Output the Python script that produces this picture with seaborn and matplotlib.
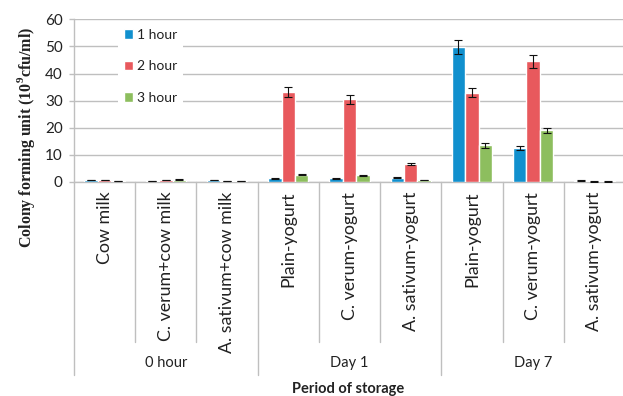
import numpy as np
import pandas as pd
import seaborn as sns
import matplotlib.pyplot as plt
import matplotlib.transforms as mtransforms

# data
products = ["Cow milk", "C. verum+cow milk", "A. sativum+cow milk",
            "Plain-yogurt", "C. verum-yogurt", "A. sativum-yogurt",
            "Plain-yogurt", "C. verum-yogurt", "A. sativum-yogurt"]
periods = ["0 hour", "Day 1", "Day 7"]
hours = ["1 hour", "2 hour", "3 hour"]

h1 = [0.7, 0.3, 0.7, 1.35, 1.35, 1.6, 49.8, 12.4, 0.5]
h2 = [0.7, 0.7, 0.3, 33.3, 30.5, 6.6, 33.0, 44.5, 0.2]
h3 = [0.4, 0.9, 0.4, 2.6, 2.5, 0.8, 13.6, 19.0, 0.2]

e1 = [0.1, 0.1, 0.1, 0.2, 0.2, 0.2, 2.5, 0.7, 0.1]
e2 = [0.1, 0.1, 0.1, 1.8, 1.6, 0.5, 1.8, 2.4, 0.1]
e3 = [0.1, 0.2, 0.1, 0.2, 0.2, 0.1, 0.9, 1.0, 0.1]

colors = ["#1190CE", "#E8595D", "#8DBE5E"]
grey = "#BFBFBF"

sns.set_style("white")
plt.rcParams['font.family'] = ['Lato', 'DejaVu Sans']
plt.rcParams['mathtext.fontset'] = 'custom'
plt.rcParams['mathtext.rm'] = 'Liberation Serif:bold'

# long table, unique key per slot because product names repeat
keys = [f"{i}_{p}" for i, p in enumerate(products)]
df = pd.DataFrame({
    "key": keys * 3,
    "hour": np.repeat(hours, len(keys)),
    "cfu": h1 + h2 + h3,
})
errs = {"1 hour": e1, "2 hour": e2, "3 hour": e3}

fig = plt.figure(figsize=(6.23, 3.96), dpi=100)
ax = fig.add_axes([74 / 623, 1 - 182 / 396, 551 / 623, 162.7 / 396])

sns.barplot(data=df, x="key", y="cfu", hue="hour", order=keys, hue_order=hours,
            palette=colors, saturation=1, width=0.66, errorbar=None, ax=ax,
            zorder=3)

# error bars on top of the seaborn bars
for cont, h in zip(ax.containers, hours):
    xs = [b.get_x() + b.get_width() / 2 for b in cont]
    ys = [b.get_height() for b in cont]
    ax.errorbar(xs, ys, yerr=errs[h], fmt="none", ecolor="#111111",
                elinewidth=0.8, capsize=2.6, capthick=0.8, zorder=4)

ax.set_xlim(-0.5, 8.5)
ax.set_ylim(0, 60)
ax.set_yticks(range(0, 61, 10))
ax.yaxis.grid(True, color=grey, lw=1.0, zorder=0)
ax.set_axisbelow(True)
for s in ["top", "right"]:
    ax.spines[s].set_visible(False)
ax.spines["left"].set_color(grey)
ax.spines["bottom"].set_color(grey)
ax.spines["left"].set_linewidth(1.0)
ax.spines["bottom"].set_linewidth(1.0)

ax.tick_params(axis="y", length=3.6, color=grey, width=1.0, pad=4.5,
               labelsize=11, labelcolor="#222222", left=True)
ax.set_xticks(range(len(products)))
ax.set_xticklabels(products, rotation=90, fontsize=12.8, color="#222222")
ax.tick_params(axis="x", length=0, pad=7)
ax.set_xlabel("")
ax.set_ylabel("")

# separator lines under the axis
trans = mtransforms.blended_transform_factory(ax.transData, ax.transAxes)
inner_end = (182 - 342) / 162.7
outer_end = (182 - 375) / 162.7
for x in [0.5, 1.5, 3.5, 4.5, 6.5, 7.5]:
    ax.plot([x, x], [0, inner_end], transform=trans, color=grey, lw=1.0,
            clip_on=False)
for x in [-0.5, 2.5, 5.5]:
    ax.plot([x, x], [0, outer_end], transform=trans, color=grey, lw=1.0,
            clip_on=False)

for i, p in enumerate(periods):
    ax.text(3 * i + 1, (182 - 363) / 162.7, p, transform=trans, ha="center",
            va="center", fontsize=10.5, color="#222222")

fig.text(348.5 / 623, 1 - 382 / 396, "Period of storage", ha="center", va="top",
         fontsize=10.5, fontweight="bold", color="#222222")
fig.text(26 / 623, 1 - 137 / 396, "Colony forming unit (10$^{9}$cfu/ml)",
         rotation=90, ha="center", va="center", fontsize=11.5, fontweight="bold",
         family="Liberation Serif", color="#222222")

leg = ax.legend(loc="upper left", bbox_to_anchor=((118 - 74) / 551, (182 - 23) / 162.7),
                borderaxespad=0, fontsize=10, handlelength=0.7, handleheight=0.7,
                handletextpad=0.3, labelspacing=1.42, borderpad=0.4,
                frameon=True, fancybox=False)
leg.get_frame().set_facecolor("white")
leg.get_frame().set_edgecolor("none")
leg.get_frame().set_alpha(1)
for t in leg.get_texts():
    t.set_color("#222222")

fig.savefig("out.png", dpi=100)
